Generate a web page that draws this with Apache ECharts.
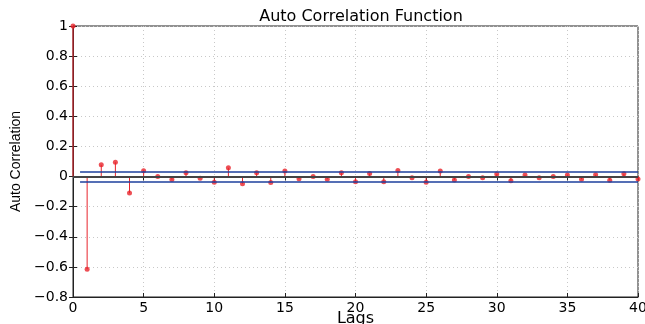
<!DOCTYPE html>
<html>
<head>
<meta charset="utf-8">
<script src="https://cdn.jsdelivr.net/npm/echarts@6/dist/echarts.min.js"></script>
<style>
  html, body { margin: 0; padding: 0; background: #fff; }
  #main { width: 645px; height: 324px; }
</style>
</head>
<body>
<div id="main"></div>
<script>
// lags 0..40 and the autocorrelation
var lags = [0, 1, 2, 3, 4, 5, 6, 7, 8, 9, 10, 11, 12, 13, 14, 15, 16, 17, 18, 19, 20,
            21, 22, 23, 24, 25, 26, 27, 28, 29, 30, 31, 32, 33, 34, 35, 36, 37, 38, 39, 40];
var acf = [1, -0.615, 0.078, 0.095, -0.11, 0.039, 0.0, -0.02, 0.025, -0.012,
           -0.037, 0.058, -0.048, 0.025, -0.04, 0.037, -0.015, 0.0, -0.018, 0.025,
           -0.035, 0.02, -0.035, 0.04, -0.008, -0.038, 0.037, -0.023, 0.0, -0.008,
           0.017, -0.028, 0.01, -0.008, 0.0, 0.01, -0.018, 0.012, -0.025, 0.018,
           -0.017];
var bound = 0.033; // confidence bounds (blue lines)

var dom = document.getElementById('main');
var myChart = echarts.init(dom);
var red = '#e8232b';
var blue = '#1c3f9c';
var font = 'DejaVu Sans';

var points = lags.map(function (l, i) { return [l, acf[i]]; });

var option = {
    animation: false,
    title: {
        text: 'Auto Correlation Function',
        left: 356, top: 4, textAlign: 'center',
        textStyle: { fontFamily: font, fontSize: 16, fontWeight: 'normal', color: '#000' }
    },
    grid: {
        left: 73, right: 7, top: 26, bottom: 27,
        outerBoundsMode: 'none', containLabel: false,
        show: true, borderColor: '#222', borderWidth: 1
    },
    xAxis: [{
        type: 'value', min: 0, max: 40, interval: 5,
        name: 'Lags', nameLocation: 'middle', nameGap: 14, nameMoveOverlap: false,
        nameTextStyle: { fontFamily: font, fontSize: 16, color: '#000', verticalAlign: 'top' },
        axisLine: { onZero: false, lineStyle: { color: '#222', width: 1 } },
        axisTick: { inside: true, length: 4, lineStyle: { color: '#222' } },
        axisLabel: { fontFamily: font, fontSize: 14, color: '#000', margin: 4 },
        splitLine: { show: true, lineStyle: { color: '#c8c8c8', type: [1, 3] } }
    }, {
        type: 'value', min: 0, max: 40, interval: 5, position: 'top',
        axisLine: { show: false },
        axisTick: { inside: true, length: 4, lineStyle: { color: '#222' } },
        axisLabel: { show: false }, splitLine: { show: false }
    }],
    yAxis: [{
        type: 'value', min: -0.8, max: 1, interval: 0.2,
        name: 'Auto Correlation', nameLocation: 'middle', nameGap: 50, nameMoveOverlap: false,
        nameTextStyle: { fontFamily: 'Liberation Sans', fontSize: 14, color: '#000' },
        axisLine: { onZero: false, lineStyle: { color: '#222', width: 1 } },
        axisTick: { inside: true, length: 4, lineStyle: { color: '#222' } },
        axisLabel: {
            fontFamily: font, fontSize: 14, color: '#000', margin: 5,
            formatter: function (v) {
                var s = String(Math.round(v * 10) / 10);
                return s.replace('-', '\u2212');
            }
        },
        splitLine: { show: true, lineStyle: { color: '#c8c8c8', type: [1, 3] } }
    }, {
        type: 'value', min: -0.8, max: 1, interval: 0.2, position: 'right',
        axisLine: { show: false },
        axisTick: { inside: true, length: 4, lineStyle: { color: '#222' } },
        axisLabel: { show: false }, splitLine: { show: false }
    }],
    series: [{
        // zero line and confidence bounds
        type: 'line', data: [], silent: true,
        markLine: {
            symbol: 'none', silent: true, label: { show: false },
            data: [
                [{ coord: [0, 0], lineStyle: { color: '#444', width: 2, type: 'solid' } }, { coord: [40, 0] }],
                [{ coord: [0.5, bound], lineStyle: { color: blue, width: 1.5, type: 'solid' } }, { coord: [40, bound] }],
                [{ coord: [0.5, -bound], lineStyle: { color: blue, width: 1.5, type: 'solid' } }, { coord: [40, -bound] }]
            ]
        }
    }, {
        // stems
        type: 'custom',
        data: points,
        renderItem: function (params, api) {
            var top = api.coord([api.value(0), api.value(1)]);
            var base = api.coord([api.value(0), 0]);
            return {
                type: 'line',
                shape: { x1: top[0], y1: top[1], x2: base[0], y2: base[1] },
                style: { stroke: red, lineWidth: 1 }
            };
        },
        z: 3
    }, {
        type: 'scatter',
        data: points,
        symbol: 'circle', symbolSize: 5,
        itemStyle: { color: red },
        z: 4
    }]
};
myChart.setOption(option);
</script>
</body>
</html>
